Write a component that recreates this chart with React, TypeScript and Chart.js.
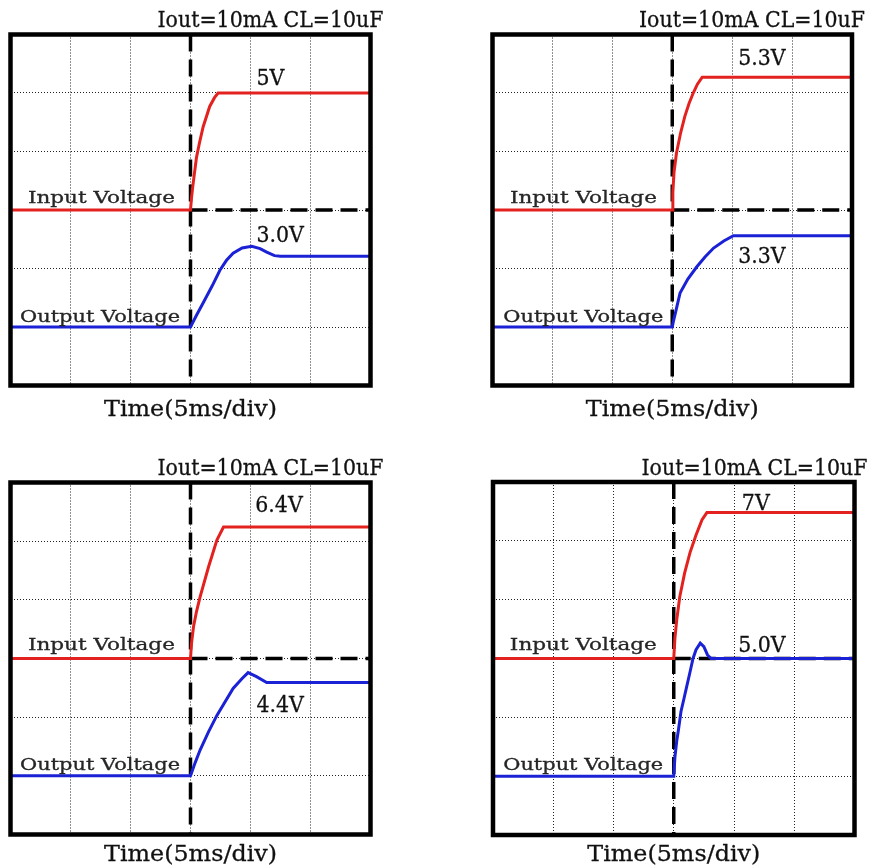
import React, { useEffect, useRef } from "react";
import { Chart, registerables } from "chart.js";

Chart.register(...registerables);

// ---------- text ----------
const COND_TITLE = "Iout=10mA CL=10uF";
const TIME_TITLE = "Time(5ms/div)";
const IN_NAME = "Input Voltage";
const OUT_NAME = "Output Voltage";
const VIN_LABELS = ["5V", "5.3V", "6.4V", "7V"];
const VOUT_LABELS = ["3.0V", "3.3V", "4.4V", "5.0V"];

// ---------- data (time in ms, 5 ms/div; level in screen divisions) ----------
const P1_IN_T = [0, 15, 15.08, 15.2, 15.5, 15.75, 16.05, 16.6, 17.0, 17.3, 30];
const P1_IN_V = [3, 3, 3.2, 3.42, 3.9, 4.15, 4.42, 4.77, 4.92, 5.0, 5.0];
const P1_OUT_T = [0, 15, 15.5, 16.05, 16.8, 17.45, 18.0, 18.55, 19.3, 20.1, 20.8, 21.35, 22.0, 22.5, 30];
const P1_OUT_V = [1, 1, 1.2, 1.41, 1.7, 1.97, 2.14, 2.26, 2.35, 2.38, 2.34, 2.28, 2.22, 2.21, 2.21];

const P2_IN_T = [0, 15, 15.05, 15.15, 15.35, 15.7, 16.05, 16.4, 16.75, 17.1, 17.5, 30];
const P2_IN_V = [3, 3, 3.3, 3.65, 3.97, 4.32, 4.6, 4.82, 5.0, 5.15, 5.27, 5.27];
const P2_OUT_T = [0, 15, 15.1, 15.25, 15.65, 16.3, 17.05, 17.75, 18.45, 19.3, 20.1, 30];
const P2_OUT_V = [1, 1, 1.1, 1.23, 1.58, 1.82, 2.03, 2.2, 2.35, 2.47, 2.56, 2.56];

const P3_IN_T = [0, 15, 15.08, 15.25, 15.5, 15.8, 16.5, 17.2, 17.75, 30];
const P3_IN_V = [3, 3, 3.25, 3.54, 3.8, 4.05, 4.56, 5.02, 5.24, 5.24];
const P3_OUT_T = [0, 15, 15.4, 15.8, 16.5, 17.2, 18.55, 19.3, 19.8, 20.5, 21.35, 30];
const P3_OUT_V = [1, 1, 1.23, 1.44, 1.75, 2.03, 2.49, 2.66, 2.76, 2.69, 2.59, 2.59];

const P4_IN_T = [0, 15, 15.1, 15.25, 15.5, 15.9, 16.35, 16.85, 17.35, 17.75, 30];
const P4_IN_V = [3, 3, 3.35, 3.66, 4.05, 4.45, 4.8, 5.1, 5.36, 5.48, 5.48];
const P4_OUT_T = [0, 15, 15.1, 15.25, 15.4, 15.6, 15.85, 16.05, 16.35, 16.6, 16.85, 17.2, 17.5, 17.8, 18.1, 30];
const P4_OUT_V = [1, 1, 1.33, 1.6, 1.8, 2.1, 2.32, 2.5, 2.77, 3.0, 3.15, 3.26, 3.2, 3.06, 3.0, 3.0];

// ---------- layout / style ----------
const RED = "#e3221f";
const BLUE = "#1b22d6";
const SERIF = "'DejaVu Serif', 'Liberation Serif', serif";
const BIG_FONT = `23px ${SERIF}`;
const SMALL_FONT = `16.5px ${SERIF}`;
// target rendered widths (px) of the long strings
const W_TITLE = 226;
const W_TIME = 173;
const W_IN = 147;
const W_OUT = 160;

type Panel = {
  left: number;
  top: number;
  pad: { left: number; top: number; right: number; bottom: number };
  timeGap: number;
  inT: number[];
  inV: number[];
  outT: number[];
  outV: number[];
  vin: string;
  vout: string;
  at: { inName: number[]; outName: number[]; vin: number[]; vout: number[] };
};

const PANELS: Panel[] = [
  {
    left: 0, top: 0,
    pad: { left: 10.5, top: 34.5, right: 18.5, bottom: 42.5 },
    timeGap: 30,
    inT: P1_IN_T, inV: P1_IN_V, outT: P1_OUT_T, outV: P1_OUT_V,
    vin: VIN_LABELS[0], vout: VOUT_LABELS[0],
    at: { inName: [1.45, 3.12], outName: [0.8, 1.09], vin: [20.5, 5.14], vout: [20.5, 2.45] },
  },
  {
    left: 480, top: 0,
    pad: { left: 12.5, top: 34.5, right: 17, bottom: 42.5 },
    timeGap: 30,
    inT: P2_IN_T, inV: P2_IN_V, outT: P2_OUT_T, outV: P2_OUT_V,
    vin: VIN_LABELS[1], vout: VOUT_LABELS[1],
    at: { inName: [1.45, 3.12], outName: [0.9, 1.09], vin: [20.5, 5.48], vout: [20.5, 2.09] },
  },
  {
    left: 0, top: 440,
    pad: { left: 10.5, top: 42.5, right: 18.5, bottom: 33.5 },
    timeGap: 26,
    inT: P3_IN_T, inV: P3_IN_V, outT: P3_OUT_T, outV: P3_OUT_V,
    vin: VIN_LABELS[2], vout: VOUT_LABELS[2],
    at: { inName: [1.45, 3.14], outName: [0.8, 1.1], vin: [20.4, 5.5], vout: [20.5, 2.09] },
  },
  {
    left: 480, top: 440,
    pad: { left: 13, top: 42, right: 14.5, bottom: 33 },
    timeGap: 26,
    inT: P4_IN_T, inV: P4_IN_V, outT: P4_OUT_T, outV: P4_OUT_V,
    vin: VIN_LABELS[3], vout: VOUT_LABELS[3],
    at: { inName: [1.4, 3.14], outName: [0.85, 1.1], vin: [20.65, 5.52], vout: [20.35, 3.11] },
  },
];

const CW = 389;
const CH = 428;

function textScale(ctx: CanvasRenderingContext2D, font: string, ref: string, target: number) {
  ctx.save();
  ctx.font = font;
  const w = ctx.measureText(ref).width;
  ctx.restore();
  return w > 0 ? target / w : 1;
}

function drawText(
  ctx: CanvasRenderingContext2D,
  text: string,
  x: number,
  y: number,
  font: string,
  sx: number,
  align: CanvasTextAlign,
  color: string
) {
  ctx.save();
  ctx.translate(x, y);
  ctx.scale(sx, 1);
  ctx.font = font;
  ctx.textAlign = align;
  ctx.textBaseline = "alphabetic";
  ctx.fillStyle = color;
  ctx.strokeStyle = color;
  ctx.lineWidth = 0.3;
  ctx.fillText(text, 0, 0);
  ctx.strokeText(text, 0, 0);
  ctx.restore();
}

function ScopePanel({ p }: { p: Panel }) {
  const ref = useRef<HTMLCanvasElement | null>(null);
  useEffect(() => {
    if (!ref.current) return;
    const scopePlugin = {
      id: "scope",
      beforeDatasetsDraw(chart: any) {
        const { ctx, chartArea: a, scales } = chart;
        const cx = scales.x.getPixelForValue(15);
        const cy = scales.y.getPixelForValue(3);
        ctx.save();
        ctx.strokeStyle = "#000";
        ctx.lineWidth = 3.5;
        ctx.setLineDash([17, 8]);
        ctx.beginPath();
        ctx.moveTo(cx, a.top);
        ctx.lineTo(cx, a.bottom);
        ctx.stroke();
        ctx.beginPath();
        ctx.moveTo(cx, cy);
        ctx.lineTo(a.right, cy);
        ctx.stroke();
        ctx.restore();
      },
      afterDatasetsDraw(chart: any) {
        const { ctx, chartArea: a, scales } = chart;
        ctx.save();
        ctx.strokeStyle = "#000";
        ctx.lineWidth = 4.5;
        ctx.setLineDash([]);
        ctx.strokeRect(a.left, a.top, a.right - a.left, a.bottom - a.top);
        ctx.restore();
        const titleSx = textScale(ctx, BIG_FONT, COND_TITLE, W_TITLE);
        const timeSx = textScale(ctx, BIG_FONT, TIME_TITLE, W_TIME);
        const inSx = textScale(ctx, SMALL_FONT, IN_NAME, W_IN);
        const outSx = textScale(ctx, SMALL_FONT, OUT_NAME, W_OUT);
        const px = (v: number[]) => [scales.x.getPixelForValue(v[0]), scales.y.getPixelForValue(v[1])];
        const [ix, iy] = px(p.at.inName);
        const [ox, oy] = px(p.at.outName);
        const [vx, vy] = px(p.at.vin);
        const [ux, uy] = px(p.at.vout);
        drawText(ctx, IN_NAME, ix, iy, SMALL_FONT, inSx, "left", "#262626");
        drawText(ctx, OUT_NAME, ox, oy, SMALL_FONT, outSx, "left", "#262626");
        drawText(ctx, p.vin, vx, vy, BIG_FONT, titleSx, "left", "#111");
        drawText(ctx, p.vout, ux, uy, BIG_FONT, titleSx, "left", "#111");
        drawText(ctx, COND_TITLE, a.right + 13, a.top - 7.5, BIG_FONT, titleSx, "right", "#111");
        drawText(ctx, TIME_TITLE, (a.left + a.right) / 2, a.bottom + p.timeGap, BIG_FONT, timeSx, "center", "#111");
      },
    };
    const toPts = (t: number[], v: number[]) => t.map((x, i) => ({ x, y: v[i] }));
    const chart = new Chart(ref.current, {
      type: "line",
      data: {
        datasets: [
          {
            label: IN_NAME,
            data: toPts(p.inT, p.inV),
            borderColor: RED,
            borderWidth: 3,
            pointRadius: 0,
            tension: 0,
            fill: false,
          },
          {
            label: OUT_NAME,
            data: toPts(p.outT, p.outV),
            borderColor: BLUE,
            borderWidth: 3,
            pointRadius: 0,
            tension: 0,
            fill: false,
          },
        ],
      },
      options: {
        animation: false,
        responsive: false,
        devicePixelRatio: 1,
        layout: { padding: p.pad },
        plugins: { legend: { display: false }, title: { display: false }, tooltip: { enabled: false } },
        events: [],
        scales: {
          x: {
            type: "linear",
            min: 0,
            max: 30,
            ticks: { display: false, stepSize: 5 },
            grid: { color: "#222", lineWidth: 1, drawTicks: false },
            border: { display: false, dash: [1, 2] },
          },
          y: {
            type: "linear",
            min: 0,
            max: 6,
            ticks: { display: false, stepSize: 1 },
            grid: { color: "#222", lineWidth: 1, drawTicks: false },
            border: { display: false, dash: [1, 2] },
          },
        },
      },
      plugins: [scopePlugin],
    } as any);
    return () => chart.destroy();
  }, [p]);
  return (
    <div style={{ position: "absolute", left: p.left, top: p.top, width: CW, height: CH }}>
      <canvas ref={ref} width={CW} height={CH} style={{ display: "block" }} />
    </div>
  );
}

export default function App() {
  return (
    <div style={{ position: "absolute", left: 0, top: 0, width: 869, height: 868, background: "#fff" }}>
      {PANELS.map((p, i) => (
        <ScopePanel key={i} p={p} />
      ))}
    </div>
  );
}
